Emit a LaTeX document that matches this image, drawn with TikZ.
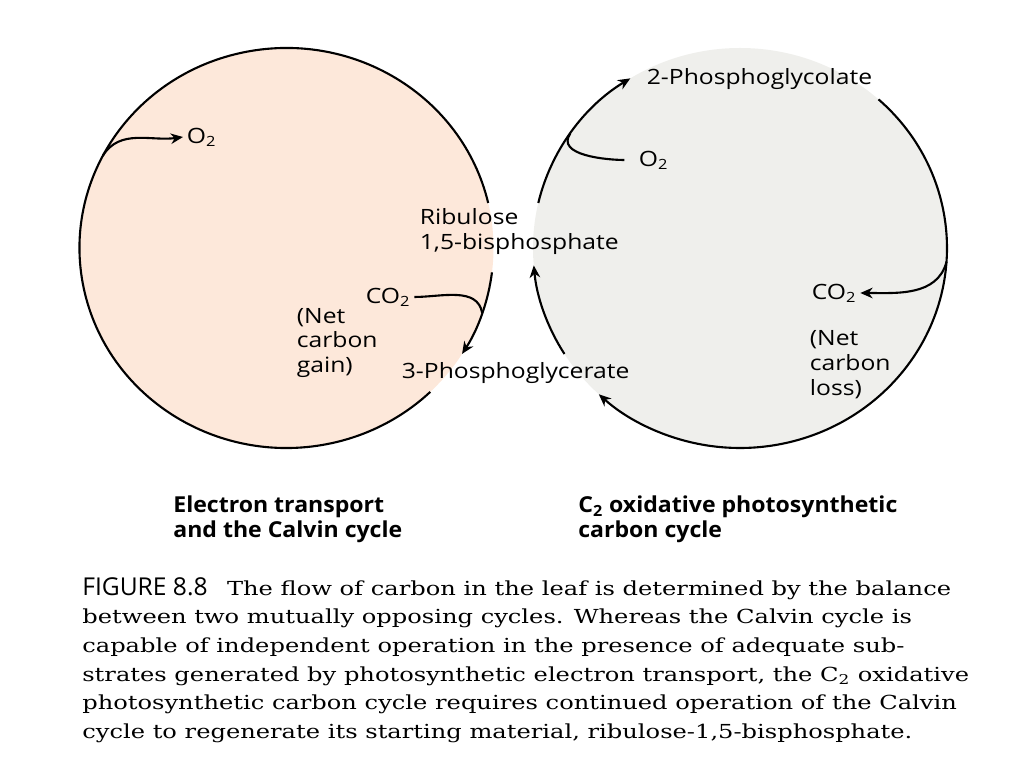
\documentclass[tikz,border=0pt]{standalone}
\usepackage{fontspec}
\setmainfont[FakeStretch=1.25]{DejaVu Serif}
\setsansfont{Open Sans}
\newfontfamily\labfont[FakeStretch=1.17]{Open Sans}
\newfontfamily\headfont[FakeStretch=1.05]{Open Sans}
\usetikzlibrary{calc,arrows.meta}
\definecolor{calvinfill}{RGB}{253,232,218}
\definecolor{oxfill}{RGB}{239,239,236}
\tikzset{
  cyc/.style   = {line width=1.2pt},
  cycarr/.style = {line width=1.2pt, -{Stealth[length=7pt,width=6pt]}},
  lab/.style   = {font=\labfont\fontsize{12}{14.2}\selectfont, anchor=west, inner sep=2pt, align=left},
  bhead/.style = {font=\headfont\bfseries\fontsize{12.5}{14.2}\selectfont, anchor=west, inner sep=0pt, align=left},
}
\newcommand{\sub}[1]{\textsubscript{#1}}

\begin{document}
\begin{tikzpicture}[scale=2]
\useasboundingbox (0,0) rectangle (10.24,7.68);
\coordinate (lc) at (2.865,5.20);
\coordinate (rc) at (7.40,5.20);
\fill[calvinfill] (lc) ellipse[x radius=2.07, y radius=2];
\fill[oxfill]     (rc) ellipse[x radius=2.07, y radius=2];

% Calvin cycle
\draw[cyc]    ($(lc)+(13:2.07 and 2)$) arc[start angle=13, end angle=314, x radius=2.07, y radius=2];
\draw[cycarr] ($(lc)+(-7:2.07 and 2)$) arc[start angle=-7, end angle=-32, x radius=2.07, y radius=2];
\coordinate (lo2j) at ($(lc)+(152.5:2.07 and 2)$);
\coordinate (lco2j) at ($(lc)+(-19:2.07 and 2)$);
\node[lab] (lo2)  at (1.83,6.31) {O\sub{2}};
\node[lab] (lco2) at (3.62,4.71) {CO\sub{2}};
\node[lab] (gain) at (2.93,4.25) {(Net\\carbon\\gain)};
\draw[cycarr] (lo2j) to[out=58,in=188] (lo2.west);
\draw[cyc] (lco2.east) to[out=0,in=100] (lco2j);

% C2 cycle
\draw[cycarr] ($(rc)+(212:2.07 and 2)$) arc[start angle=212, end angle=185, x radius=2.07, y radius=2];
\draw[cycarr] ($(rc)+(167:2.07 and 2)$) arc[start angle=167, end angle=122, x radius=2.07, y radius=2];
\draw[cycarr] ($(rc)+(48:2.07 and 2)$) arc[start angle=48, end angle=-133, x radius=2.07, y radius=2];
\coordinate (ro2j) at ($(rc)+(145:2.07 and 2)$);
\coordinate (rco2j) at ($(rc)+(-4:2.07 and 2)$);
\node[lab] (ro2)  at (6.35,6.08) {O\sub{2}};
\node[lab] (rco2) at (8.08,4.75) {CO\sub{2}};
\node[lab] (loss) at (8.06,4.03) {(Net\\carbon\\loss)};
\draw[cyc, shorten <=6pt] (ro2.west) to[out=180,in=235] (ro2j);
\draw[cycarr] (rco2j) to[out=-105,in=0] (rco2.east);

% shared labels
\node[lab] (pgc)  at (6.43,6.89) {2-Phosphoglycolate};
\node[lab] (rubp) at (4.16,5.36) {Ribulose\\1,5-bisphosphate};
\node[lab] (pga)  at (3.98,3.95) {3-Phosphoglycerate};

\node[bhead] (calv) at (1.73,2.49) {Electron transport\\and the Calvin cycle};
\node[bhead] (c2)   at (5.78,2.49) {C\sub{2} oxidative photosynthetic\\carbon cycle};

\node[anchor=west, inner sep=0pt, align=left, font=\fontsize{11}{16.3}\selectfont] (cap) at (0.82,1.08)
  {{\sffamily\fontsize{14}{16.3}\selectfont FIGURE 8.8}\quad The flow of carbon in the leaf is determined by the balance\\
   between two mutually opposing cycles. Whereas the Calvin cycle is\\
   capable of independent operation in the presence of adequate sub-\\
   strates generated by photosynthetic electron transport, the C\sub{2} oxidative\\
   photosynthetic carbon cycle requires continued operation of the Calvin\\
   cycle to regenerate its starting material, ribulose-1,5-bisphosphate.};
\end{tikzpicture}
\end{document}
